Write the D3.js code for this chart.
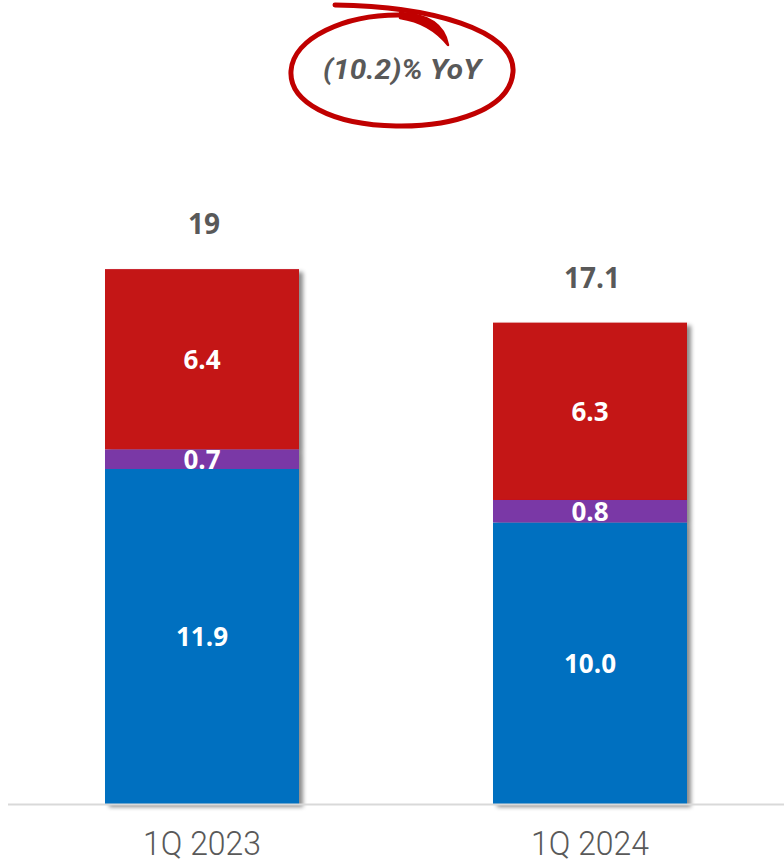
<!DOCTYPE html>
<html>
<head>
<meta charset="utf-8">
<script src="https://cdn.jsdelivr.net/npm/d3@7"></script>
<style>
  html, body { margin: 0; padding: 0; background: #fff; }
  svg { display: block; }
</style>
</head>
<body>
<svg id="chart" width="784" height="863"></svg>
<script>
const categories = ["1Q 2023", "1Q 2024"];
const seriesNames = ["Blue", "Purple", "Red"];
const blueValues = [11.9, 10.0];
const purpleValues = [0.7, 0.8];
const redValues = [6.4, 6.3];
const totals = [19, 17.1];
const totalLabels = ["19", "17.1"];
const segmentLabels = [["11.9", "10.0"], ["0.7", "0.8"], ["6.4", "6.3"]];
const annotationText = "(10.2)% YoY";
const colors = ["#0070C0", "#7A39A6", "#C41216"];

const svg = d3.select("#chart");
const baseline = 804;

const x = d3.scaleBand().domain(categories).range([8, 784]).paddingInner(0.5).paddingOuter(0.25);
const y = d3.scaleLinear().domain([0, 28.56]).range([baseline, 0]);

const defs = svg.append("defs");
const f = defs.append("filter").attr("id", "shadow").attr("x", "-10%").attr("y", "-10%").attr("width", "130%").attr("height", "130%");
f.append("feDropShadow").attr("dx", 4).attr("dy", 3).attr("stdDeviation", 2.2)
  .attr("flood-color", "#000").attr("flood-opacity", 0.45);

const rows = categories.map((c, i) => ({ cat: c, Blue: blueValues[i], Purple: purpleValues[i], Red: redValues[i] }));
const stacked = d3.stack().keys(seriesNames)(rows);

categories.forEach((c, i) => {
  const g = svg.append("g").attr("filter", "url(#shadow)");
  stacked.forEach((layer, k) => {
    const d = layer[i];
    g.append("rect")
      .attr("x", x(c))
      .attr("width", x.bandwidth())
      .attr("y", y(d[1]))
      .attr("height", y(d[0]) - y(d[1]))
      .attr("fill", colors[k]);
  });
});

svg.append("line").attr("x1", 8).attr("x2", 784).attr("y1", baseline + 0.5).attr("y2", baseline + 0.5)
  .attr("stroke", "#d9d9d9").attr("stroke-width", 2);

stacked.forEach((layer, k) => {
  layer.forEach((d, i) => {
    svg.append("text")
      .attr("x", x(categories[i]) + x.bandwidth() / 2)
      .attr("y", (y(d[0]) + y(d[1])) / 2)
      .attr("dy", "0.36em")
      .attr("text-anchor", "middle")
      .attr("font-family", "'Open Sans', sans-serif")
      .attr("font-weight", 700)
      .attr("font-size", 26)
      .attr("fill", "#fff")
      .text(segmentLabels[k][i]);
  });
});

totals.forEach((t, i) => {
  svg.append("text")
    .attr("x", x(categories[i]) + x.bandwidth() / 2 + 2)
    .attr("y", y(t) - 35)
    .attr("text-anchor", "middle")
    .attr("font-family", "'Open Sans', sans-serif")
    .attr("font-weight", 700)
    .attr("font-size", 28)
    .attr("fill", "#595959")
    .text(totalLabels[i]);
});

categories.forEach((c) => {
  svg.append("text")
    .attr("x", x(c) + x.bandwidth() / 2)
    .attr("y", 855)
    .attr("text-anchor", "middle")
    .attr("font-family", "Roboto, sans-serif")
    .attr("font-weight", 300)
    .attr("font-size", 33)
    .attr("fill", "#595959")
    .attr("textLength", 118)
    .attr("lengthAdjust", "spacingAndGlyphs")
    .text(c);
});

const ann = svg.append("g");
ann.append("path")
  .attr("d", "M335,5 C430,6 516,30 513,72 C510,110 452,127 396,126 C332,125 289,102 291,71 C293,38 345,14 402,15")
  .attr("fill", "none").attr("stroke", "#C00000").attr("stroke-width", 5).attr("stroke-linecap", "round");
ann.append("path")
  .attr("d", "M400,13 C428,14 444,24 448,45 C436,30 420,21 400,18 Z")
  .attr("fill", "#C00000").attr("stroke", "#C00000").attr("stroke-width", 2.5).attr("stroke-linejoin", "round");
ann.append("text")
  .attr("x", 402)
  .attr("y", 79)
  .attr("text-anchor", "middle")
  .attr("font-family", "Roboto, sans-serif")
  .attr("font-weight", 700)
  .attr("font-style", "italic")
  .attr("font-size", 27)
  .attr("fill", "#595959")
  .attr("textLength", 158)
  .attr("lengthAdjust", "spacingAndGlyphs")
  .text(annotationText);
</script>
</body>
</html>
